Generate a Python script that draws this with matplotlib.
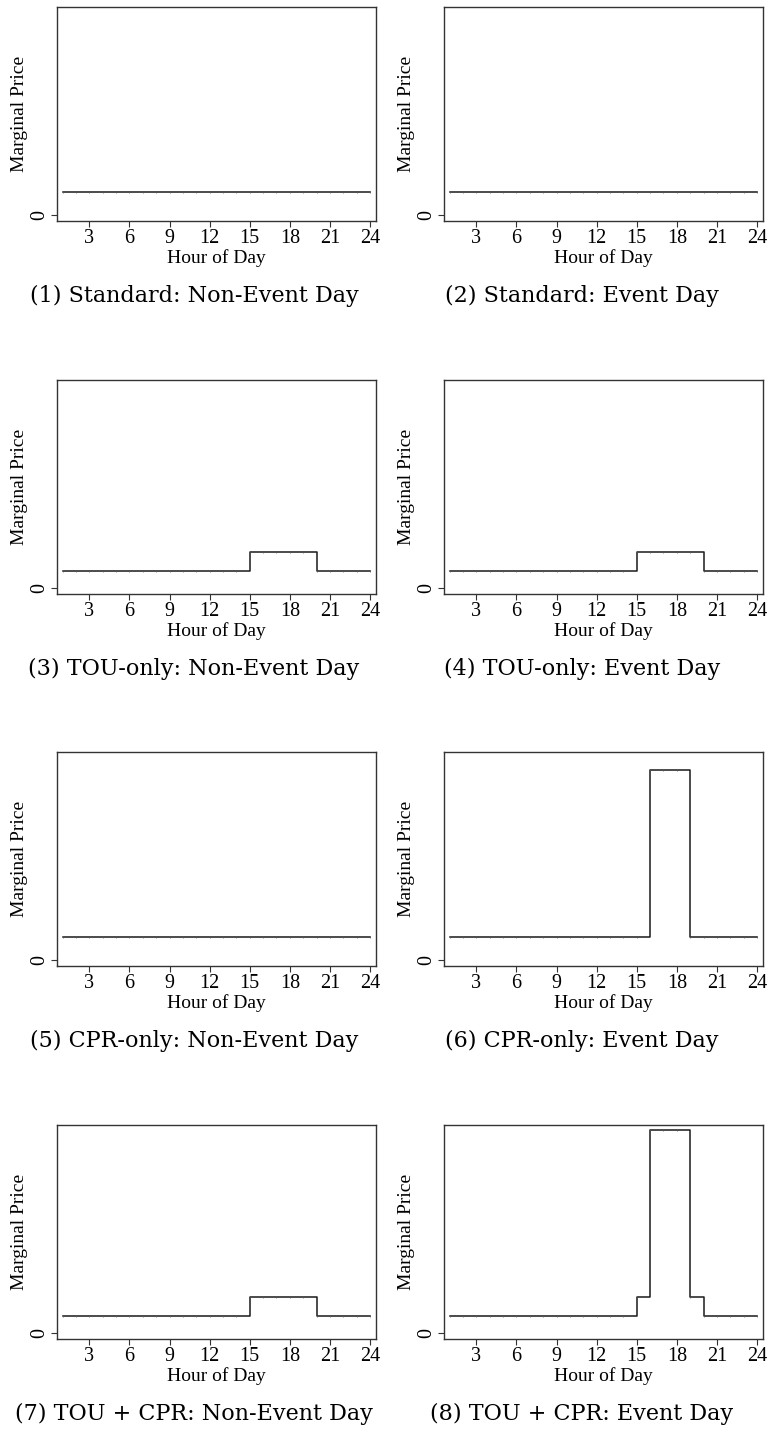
import matplotlib
matplotlib.use("Agg")
import matplotlib.pyplot as plt

# ---------------- data ----------------
hours = list(range(1, 25))
x_ticks = [3, 6, 9, 12, 15, 18, 21, 24]

price_standard_nonevent = [10, 10, 10, 10, 10, 10, 10, 10, 10, 10, 10, 10,
                           10, 10, 10, 10, 10, 10, 10, 10, 10, 10, 10, 10]
price_standard_event = [10, 10, 10, 10, 10, 10, 10, 10, 10, 10, 10, 10,
                        10, 10, 10, 10, 10, 10, 10, 10, 10, 10, 10, 10]
price_tou_nonevent = [10, 10, 10, 10, 10, 10, 10, 10, 10, 10, 10, 10,
                      10, 10, 20.5, 20.5, 20.5, 20.5, 20.5, 10, 10, 10, 10, 10]
price_tou_event = [10, 10, 10, 10, 10, 10, 10, 10, 10, 10, 10, 10,
                   10, 10, 20.5, 20.5, 20.5, 20.5, 20.5, 10, 10, 10, 10, 10]
price_cpr_nonevent = [10, 10, 10, 10, 10, 10, 10, 10, 10, 10, 10, 10,
                      10, 10, 10, 10, 10, 10, 10, 10, 10, 10, 10, 10]
price_cpr_event = [10, 10, 10, 10, 10, 10, 10, 10, 10, 10, 10, 10,
                   10, 10, 10, 83.5, 83.5, 83.5, 10, 10, 10, 10, 10, 10]
price_toucpr_nonevent = [10, 10, 10, 10, 10, 10, 10, 10, 10, 10, 10, 10,
                         10, 10, 20.5, 20.5, 20.5, 20.5, 20.5, 10, 10, 10, 10, 10]
price_toucpr_event = [10, 10, 10, 10, 10, 10, 10, 10, 10, 10, 10, 10,
                      10, 10, 20.5, 116.8, 116.8, 116.8, 20.5, 10, 10, 10, 10, 10]

panel_titles = ["(1) Standard: Non-Event Day", "(2) Standard: Event Day",
                "(3) TOU-only: Non-Event Day", "(4) TOU-only: Event Day",
                "(5) CPR-only: Non-Event Day", "(6) CPR-only: Event Day",
                "(7) TOU + CPR: Non-Event Day", "(8) TOU + CPR: Event Day"]
series = [price_standard_nonevent, price_standard_event,
          price_tou_nonevent, price_tou_event,
          price_cpr_nonevent, price_cpr_event,
          price_toucpr_nonevent, price_toucpr_event]
y_upper = [91.6, 91.6, 119.8, 119.8, 91.6, 91.6, 119.8, 119.8]

# ---------------- figure ----------------
W, H = 768, 1436
fig = plt.figure(figsize=(W / 100, H / 100), dpi=100)
fig.patch.set_facecolor("white")

tick_font = ["Liberation Serif", "DejaVu Serif"]
title_font = ["DejaVu Serif"]
line_col = "#1a1a1a"
frame_col = "#333333"

ax_left_px = [57, 444]
ax_w_px = 319
ax_h_px = 214
row_top_px = [7, 380, 752, 1125]
title_cx_px = [194, 582]

for i, (vals, title, yu) in enumerate(zip(series, panel_titles, y_upper)):
    r, c = divmod(i, 2)
    left = ax_left_px[c] / W
    bottom = 1 - (row_top_px[r] + ax_h_px) / H
    ax = fig.add_axes([left, bottom, ax_w_px / W, ax_h_px / H])
    ax.plot(hours, vals, drawstyle="steps-post", color=line_col, lw=1.1,
            marker="|", markersize=1.8, markeredgewidth=0.5, markeredgecolor="#555555")
    ax.set_xlim(0.58, 24.45)
    lo = -yu * 0.029
    ax.set_ylim(lo, yu)
    ax.set_xticks(x_ticks)
    ax.set_xticklabels([str(t) for t in x_ticks], fontfamily=tick_font, fontsize=14.5)
    ax.set_yticks([0])
    ax.set_yticklabels(["0"], fontfamily=tick_font, fontsize=14.5, rotation=90, va="center")
    ax.tick_params(axis="both", direction="out", length=4, width=0.8, color=frame_col, pad=1.5)
    for sp in ax.spines.values():
        sp.set_color(frame_col)
        sp.set_linewidth(1.0)
    ax.set_xlabel("Hour of Day", fontfamily=tick_font, fontsize=14)
    ax.xaxis.set_label_coords(0.5, -0.13)
    ax.set_ylabel("Marginal Price", fontfamily=tick_font, fontsize=14)
    ax.yaxis.set_label_coords(-0.09, 0.5)
    ty = row_top_px[r] + ax_h_px + 75
    fig.text(title_cx_px[c] / W, 1 - ty / H, title, ha="center", va="center",
             fontfamily=title_font, fontsize=16)

fig.savefig("out.png", dpi=100, facecolor="white")
